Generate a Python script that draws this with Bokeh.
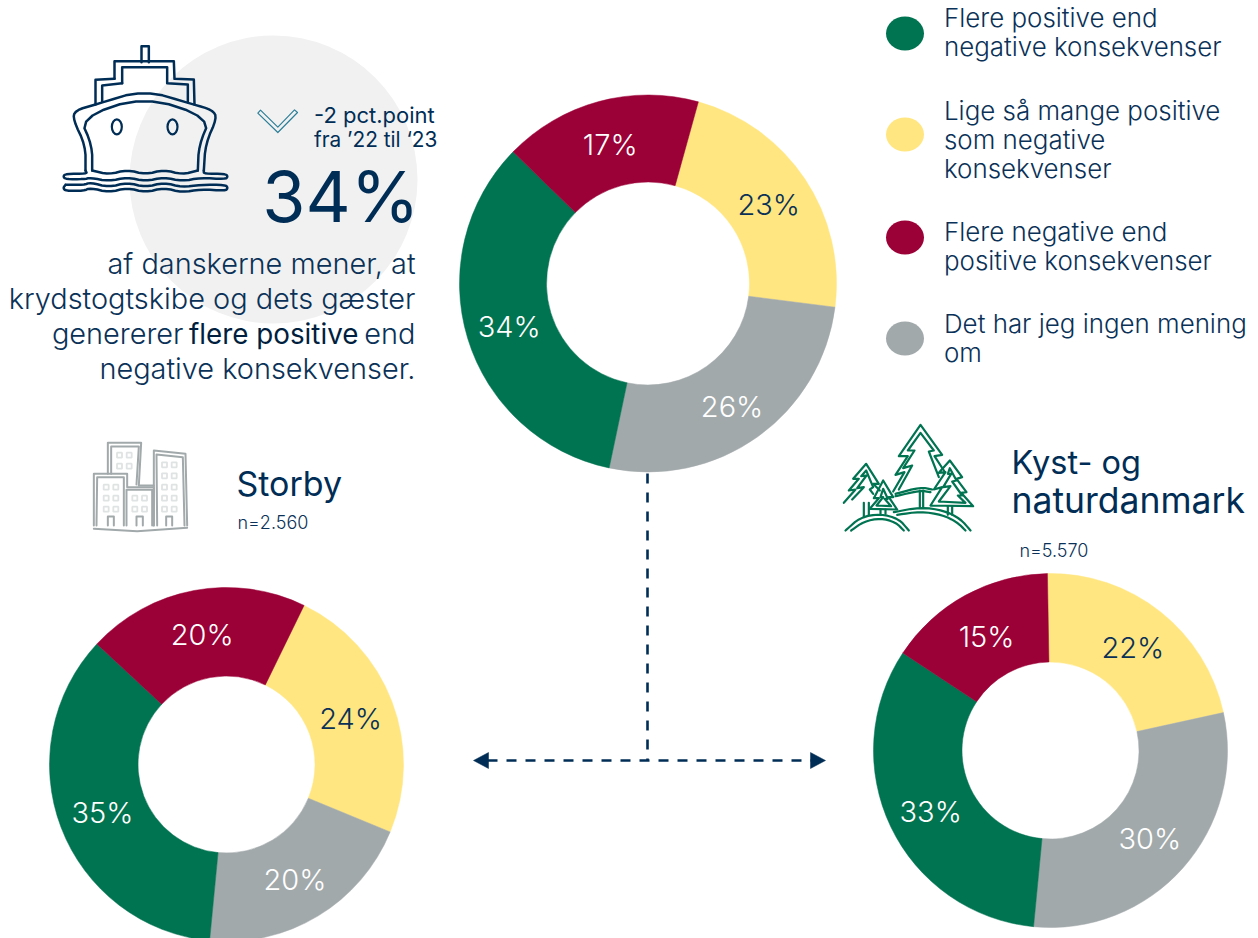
from math import sin, cos, radians
from bokeh.plotting import figure
from bokeh.models import Range1d
from bokeh.core.properties import value
from bokeh.embed import file_html
from bokeh.resources import INLINE

# ---- data (shares; labels show them rounded)
categories = ["Lige så mange positive som negative konsekvenser",
              "Det har jeg ingen mening om",
              "Flere positive end negative konsekvenser",
              "Flere negative end positive konsekvenser"]
main_values = [22.7, 26.3, 34.0, 17.0]
storby_values = [24.0, 20.3, 35.4, 20.3]
kyst_values = [21.8, 29.9, 32.7, 15.4]
storby_n = "n=2.560"
kyst_n = "n=5.570"

NAVY = "#0a3157"; DARK = "#002d55"
GREEN = "#007350"; YELLOW = "#FFE680"; RED = "#9B0037"; GRAY = "#A2A9AB"
colors = [YELLOW, GRAY, GREEN, RED]
label_colors = [NAVY, "white", "white", "white"]
FONT = "Inter"
LIGHT = "Inter Light"

p = figure(width=1258, height=938, x_range=Range1d(0, 1258), y_range=Range1d(938, 0),
           output_backend="svg", toolbar_location=None, min_border=0,
           outline_line_color=None, background_fill_color="white", border_fill_color="white")
p.axis.visible = False
p.grid.visible = False


def txt(x, y, s, size, color=NAVY, align="left", font=LIGHT):
    p.text([x], [y], text=[s], text_font=value(font), text_font_size=f"{size}px",
           text_color=color, text_align=align, text_baseline="middle")


def donut(cx, cy, R, r, vals, start_deg, nudge):
    total = sum(vals)
    a = start_deg
    for v, c, lc, dy in zip(vals, colors, label_colors, nudge):
        sweep = v / total * 360
        s = radians(a - 90)
        e = radians(a + sweep - 90)
        p.annular_wedge([cx], [cy], inner_radius=r, outer_radius=R, start_angle=-s, end_angle=-e,
                        direction="clock", fill_color=c, line_color=c, line_width=0.5)
        m = radians(a + sweep / 2 - 90)
        rm = (R + r) / 2
        txt(cx + rm * cos(m), cy + rm * sin(m) + dy, f"{round(v)}%", 29, lc, "center")
        a += sweep


def chaikin(pts, n=2):
    for _ in range(n):
        out = [pts[0]]
        for a, b in zip(pts, pts[1:]):
            out.append((0.75 * a[0] + 0.25 * b[0], 0.75 * a[1] + 0.25 * b[1]))
            out.append((0.25 * a[0] + 0.75 * b[0], 0.25 * a[1] + 0.75 * b[1]))
        out.append(pts[-1])
        pts = out
    return pts


def path(points, ox, oy, color, width=1.6, k=1 / 3, smooth=False):
    if smooth:
        points = chaikin(points)
    p.line([ox + q[0] * k for q in points], [oy + q[1] * k for q in points],
           line_color=color, line_width=width, line_join="round", line_cap="round")


p.ellipse([273], [179], width=288, height=288, fill_color="#F1F1F1", line_color=None)

donut(647.5, 283, 188.5, 101.5, main_values, 15.5, [1, 5, 1, 1])
donut(226, 764, 177, 88.5, storby_values, 26, [1, 1, 1, 1])
donut(1050, 750, 177, 88.5, kyst_values, -1, [1, 0, 4, 2])

p.line([647, 647], [473, 760], line_color=DARK, line_width=2.6, line_dash="10 9")
p.line([487, 812], [760, 760], line_color=DARK, line_width=2.6, line_dash="10 9")
p.patch([473, 488, 488], [760, 752, 768], fill_color=DARK, line_color=DARK, line_width=0.5)
p.patch([825, 810, 810], [760, 752, 768], fill_color=DARK, line_color=DARK, line_width=0.5)

legend_rows = [(33, GREEN, ["Flere positive end", "negative konsekvenser"], 17),
               (134, YELLOW, ["Lige så mange positive", "som negative", "konsekvenser"], 110),
               (237, RED, ["Flere negative end", "positive konsekvenser"], 231),
               (338, GRAY, ["Det har jeg ingen mening", "om"], 323)]
for cy, c, lines, y0 in legend_rows:
    p.ellipse([904.5], [cy], width=38, height=34, fill_color=c, line_color=None)
    for i, s in enumerate(lines):
        txt(943.5, y0 + i * 28.8, s, 25.9)

txt(419, 196, "34%", 70, DARK, "right", FONT)
txt(313.5, 114, "-2 pct.point", 22, DARK, "left", FONT)
txt(313.5, 139, "fra ’22 til ‘23", 20.8, DARK, "left", FONT)
txt(415, 263, "af danskerne mener, at", 28.9, NAVY, "right")
txt(415, 298, "krydstogtskibe og dets gæster", 28.9, NAVY, "right")
txt(183, 333, "genererer", 28.9, NAVY, "right")
txt(188.5, 333, "flere positive", 27.8, "#001f3f", "left", FONT)
txt(415, 333, "end", 28.9, NAVY, "right")
txt(415, 368, "negative konsekvenser.", 28.9, NAVY, "right")

txt(236, 483, "Storby", 34, DARK, "left", FONT)
txt(237, 522, storby_n, 18, NAVY)
txt(1011, 462, "Kyst- og", 32.5, DARK, "left", FONT)
txt(1011, 500, "naturdanmark", 35.5, DARK, "left", FONT)
txt(1019, 550, kyst_n, 18, NAVY)

path([(652, 248), (660, 239), (712, 290), (762, 238), (771, 246), (712, 306), (652, 248)], 40, 30, "#2c7f98", 1.2)

SX, SY = 40, 30
ship = [
    [(303, 95), (303, 47), (325, 47), (325, 95)],
    [(222, 145), (222, 92), (400, 92), (402, 145), (460, 147), (462, 222)],
    [(222, 145), (165, 148), (165, 222)],
    [(245, 158), (245, 110), (380, 110), (380, 158), (442, 162), (442, 215)],
    [(245, 158), (185, 165), (185, 212)],
    [(135, 420), (135, 345), (98, 268), (103, 240), (165, 222), (310, 178), (460, 222), (515, 238), (530, 262), (495, 340), (490, 420)],
    [(155, 420), (155, 345), (118, 262), (310, 197), (510, 262), (475, 345), (472, 420)],
    [(155, 420), (205, 432), (260, 418), (315, 432), (370, 418), (425, 432), (472, 420)],
    [(135, 420), (140, 430), (75, 430), (68, 438), (75, 446), (130, 446), (150, 442), (205, 452), (260, 440), (315, 452), (370, 440), (425, 452), (480, 442), (555, 446), (562, 438), (555, 430), (490, 430), (490, 420)],
    [(75, 463), (68, 472), (75, 481), (130, 481), (150, 472), (205, 486), (260, 472), (315, 486), (370, 472), (425, 486), (480, 476), (555, 481), (562, 472), (555, 463), (480, 463), (425, 470), (370, 456), (315, 470), (260, 456), (205, 470), (150, 456), (130, 463), (75, 463)],
]
for i, s in enumerate(ship):
    path(s, SX, SY, DARK, 2.5, smooth=i >= 5)
for wx in (229, 396):
    p.ellipse([SX + wx / 3], [SY + 289 / 3], width=10, height=15, fill_color=None, line_color=DARK, line_width=2.2)

BX, BY = 70, 430
blds = [
    [(112, 130), (112, 37), (212, 37), (205, 165)],
    [(122, 130), (122, 48), (205, 48), (198, 162)],
    [(70, 285), (70, 130), (170, 130), (170, 170), (250, 170), (250, 285)],
    [(78, 285), (80, 140), (160, 140), (160, 285)],
    [(168, 285), (168, 178), (245, 178), (245, 285)],
    [(205, 165), (250, 165)],
    [(250, 285), (250, 60), (345, 70), (350, 285)],
    [(260, 285), (258, 72), (337, 80), (342, 285)],
    [(70, 295), (200, 302), (350, 292)],
    [(112, 285), (112, 258), (130, 258), (130, 285)],
    [(198, 285), (198, 258), (217, 258), (217, 285)],
    [(287, 285), (287, 258), (305, 258), (305, 285)],
]
for s in blds:
    path(s, BX, BY, GRAY, 2.0)
win_x = [147, 176, 147, 176, 107, 136, 107, 136, 107, 136, 193, 222, 193, 222,
         282, 311, 282, 311, 282, 311, 282, 311, 282, 311]
win_y = [74, 74, 107, 107, 170, 170, 203, 203, 236, 236, 203, 203, 236, 236,
         103, 103, 136, 136, 170, 170, 203, 203, 236, 236]
p.rect([BX + x / 3 for x in win_x], [BY + y / 3 for y in win_y], width=5, height=5,
       fill_color=None, line_color="#E0E3E3", line_width=1.8)

TX, TY = 830, 415
trees = [
    [(188, 228), (222, 170), (195, 178), (232, 122), (205, 122), (270, 28), (335, 118), (312, 122), (342, 168)],
    [(205, 222), (245, 150), (218, 158), (252, 105), (232, 105), (270, 52), (310, 105), (295, 108), (325, 185)],
    [(300, 270), (335, 215), (310, 222), (345, 170), (325, 172), (358, 135), (395, 185), (378, 190), (408, 230), (392, 232), (428, 272), (300, 270)],
    [(325, 258), (360, 212), (338, 215), (362, 175), (352, 175), (358, 158), (378, 195), (365, 198), (395, 240), (382, 240), (405, 262), (325, 258)],
    [(40, 262), (75, 222), (55, 225), (85, 190), (68, 190), (107, 145), (145, 205), (128, 205), (148, 225)],
    [(65, 252), (100, 215), (80, 218), (108, 180), (92, 182), (107, 165), (128, 215), (118, 222), (128, 235)],
    [(118, 280), (145, 248), (130, 248), (158, 195), (188, 245), (175, 245), (200, 282), (118, 280)],
    [(138, 270), (158, 245), (150, 245), (158, 220), (172, 250), (162, 250), (182, 272), (138, 270)],
    [(100, 262), (100, 305)], [(115, 262), (115, 298)],
    [(150, 282), (150, 295)], [(165, 282), (165, 295)],
    [(268, 225), (268, 275)], [(278, 225), (278, 275)],
    [(352, 272), (352, 298)], [(365, 272), (365, 298)],
    [(195, 235), (270, 215), (305, 222)],
    [(195, 242), (270, 225), (300, 230)],
    [(45, 345), (90, 305), (150, 295), (205, 310), (235, 345)],
    [(62, 345), (100, 318), (150, 308), (195, 320), (220, 345)],
    [(190, 290), (270, 275), (340, 285), (390, 310), (420, 345)],
    [(200, 298), (270, 288), (335, 298), (380, 320), (405, 345)],
]
for i, s in enumerate(trees):
    path(s, TX, TY, GREEN, 2.2, smooth=i >= 16)

open("out.html", "w").write(file_html(p, INLINE))
